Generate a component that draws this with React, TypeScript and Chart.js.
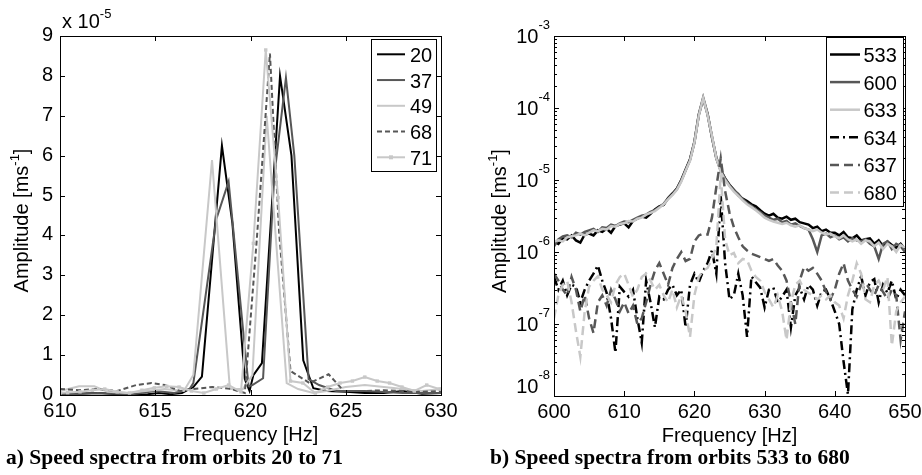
import React, { useEffect, useRef } from "react";
import { Chart, registerables } from "chart.js";

Chart.register(...registerables);

const SANS = '"Liberation Sans", Arial, Helvetica, sans-serif';
const SERIF = '"Liberation Serif", "Times New Roman", Times, serif';
const BLACK = "#000000";
const DARK = "#575757";
const LIGHT = "#c8c8c8";

// ---------------- (a) amplitude in units of 1e-5 m/s ----------------
const freq20 = [610, 611, 612, 613, 614, 614.6, 615.2, 615.8, 616.4, 617.0, 617.45, 618.5, 619.05, 619.7, 619.95, 620.15, 620.6, 621.55, 622.15, 622.77, 623.3, 624, 625, 626, 627, 628, 629, 630];
const amp20 = [0.05, 0.03, 0.05, 0.02, 0.0, 0.02, 0.05, 0.02, 0.05, 0.2, 0.46, 6.25, 4.3, 0.4, 0.1, 0.5, 0.8, 8.0, 6.0, 0.87, 0.17, 0.1, 0.08, 0.05, 0.05, 0.1, 0.03, 0.05];

const freq37 = [610, 611, 612, 613, 613.8, 615, 616, 616.8, 617.0, 618.2, 618.85, 619.9, 620.1, 620.66, 621.25, 621.86, 622.3, 623.05, 623.6, 624.5, 626, 628, 630];
const amp37 = [0.02, 0.03, 0.05, 0.03, 0.02, 0.1, 0.05, 0.15, 0.3, 4.4, 5.35, 0.22, 0.25, 0.42, 5.5, 7.95, 6.0, 0.4, 0.25, 0.1, 0.1, 0.05, 0.05];

const freq49 = [610, 611, 611.8, 612.5, 613.5, 614.5, 615.5, 616.5, 617.0, 617.98, 618.92, 619.6, 620.1, 620.85, 621.9, 622.5, 623.3, 624, 625, 626, 627, 628, 629, 630];
const amp49 = [0.1, 0.22, 0.22, 0.08, 0.05, 0.1, 0.15, 0.1, 0.5, 5.89, 0.15, 0.15, 0.5, 7.0, 0.3, 0.15, 0.05, 0.1, 0.2, 0.25, 0.2, 0.15, 0.1, 0.15];

const freq68 = [610, 611, 612, 613, 614, 614.8, 615.5, 616.3, 617, 618, 619, 619.7, 620.33, 621.02, 621.5, 622.1, 623.1, 624.1, 624.9, 626, 627, 628, 629, 630];
const amp68 = [0.15, 0.12, 0.15, 0.1, 0.25, 0.3, 0.25, 0.1, 0.15, 0.2, 0.15, 0.05, 3.9, 8.56, 4.1, 0.6, 0.3, 0.52, 0.1, 0.1, 0.12, 0.1, 0.08, 0.1];

const freq71 = [610, 610.4, 611.05, 611.7, 612.35, 613.0, 613.65, 614.3, 614.95, 615.6, 616.25, 616.9, 617.55, 618.2, 618.85, 619.5, 620.15, 620.8, 621.45, 622.1, 622.75, 623.4, 624.05, 624.7, 625.35, 626.0, 626.65, 627.3, 627.95, 628.6, 629.25, 629.9, 630];
const amp71 = [0.05, 0.06, 0.08, 0.12, 0.15, 0.08, 0.05, 0.12, 0.18, 0.22, 0.2, 0.1, 0.05, 0.15, 0.25, 0.08, 3.8, 8.65, 4.95, 0.35, 0.3, 0.05, 0.2, 0.3, 0.35, 0.45, 0.35, 0.3, 0.2, 0.1, 0.25, 0.15, 0.15];

const xTicksA = [610, 615, 620, 625, 630];
const yTicksA = [0, 1, 2, 3, 4, 5, 6, 7, 8, 9];

// ---------------- (b) amplitude in units of 1e-8 m/s ----------------
const freqB = [
  600, 600.625, 601.25, 601.875, 602.5, 603.125, 603.75, 604.375,
  605, 605.625, 606.25, 606.875, 607.5, 608.125, 608.75, 609.375,
  610, 610.625, 611.25, 611.875, 612.5, 613.125, 613.75, 614.375,
  615, 615.625, 616.25, 616.875, 617.5, 618.125, 618.75, 619.375,
  620, 620.625, 621.25, 621.875, 622.5, 623.125, 623.75, 624.375,
  625, 625.625, 626.25, 626.875, 627.5, 628.125, 628.75, 629.375,
  630, 630.625, 631.25, 631.875, 632.5, 633.125, 633.75, 634.375,
  635, 635.625, 636.25, 636.875, 637.5, 638.125, 638.75, 639.375,
  640, 640.625, 641.25, 641.875, 642.5, 643.125, 643.75, 644.375,
  645, 645.625, 646.25, 646.875, 647.5, 648.125, 648.75, 649.375,
  650,
];
const amp533 = [
  140, 130, 155, 150, 170, 145, 135, 175,
  180, 170, 200, 190, 210, 185, 230, 240,
  250, 220, 270, 290, 310, 300, 340, 390,
  430, 450, 560, 650, 760, 1000, 1400, 1950,
  3400, 8000, 13500, 8200, 4000, 2000, 1350, 1050,
  860, 730, 610, 550, 510, 460, 430, 380,
  340, 320, 340, 300, 290, 310, 280, 290,
  260, 250, 240, 215, 225, 195, 205, 185,
  185, 170, 190, 160, 155, 170, 145, 150,
  155, 130, 145, 120, 140, 125, 115, 130,
  110,
];
const amp600 = [
  120, 150, 165, 170, 160, 185, 175, 190,
  200, 210, 190, 220, 215, 240, 230, 250,
  265, 260, 280, 300, 320, 330, 360, 380,
  420, 470, 550, 630, 740, 980, 1350, 1900,
  3300, 8200, 14000, 8400, 3900, 2050, 1400, 1050,
  840, 720, 640, 540, 480, 440, 390, 360,
  320, 300, 280, 290, 260, 270, 240, 250,
  230, 215, 205, 150, 100, 170, 180, 160,
  170, 150, 160, 140, 155, 145, 140, 150,
  130, 120, 80, 130, 140, 110, 130, 120,
  100,
];
const amp633 = [
  140, 145, 140, 160, 165, 170, 180, 170,
  185, 200, 195, 210, 205, 230, 225, 245,
  250, 270, 265, 290, 300, 330, 350, 370,
  410, 460, 540, 620, 730, 950, 1350, 1850,
  3300, 7800, 13800, 8000, 4100, 2000, 1300, 1000,
  820, 690, 600, 520, 460, 420, 380, 340,
  300, 280, 265, 255, 245, 255, 235, 225,
  235, 215, 205, 195, 205, 185, 175, 180,
  165, 155, 170, 150, 140, 150, 130, 145,
  140, 120, 135, 110, 130, 120, 100, 125,
  115,
];
const amp634 = [
  45, 30, 40, 25, 35, 33, 20, 30,
  40, 50, 65, 40, 27, 12, 4, 33,
  28, 24, 30, 12, 5.5, 40, 20, 9,
  24, 22, 30, 35, 25, 30, 9, 35,
  50, 38, 55, 70, 105, 50, 600, 70,
  22, 25, 50, 25, 6.6, 46, 38, 32,
  17, 30, 32, 20, 24, 30, 9, 25,
  32, 22, 35, 30, 18, 28, 30, 22,
  15, 10, 3, 1.05, 16, 30, 46, 25,
  38, 42, 20, 35, 27, 40, 22, 30,
  25,
];
const amp637 = [
  50, 40, 30, 25, 45, 30, 15, 25,
  12, 7.5, 20, 25, 18, 30, 22, 15,
  20, 14, 18, 10, 12, 20, 35, 55,
  70, 50, 35, 60, 80, 100, 75, 80,
  140, 170, 180, 175, 300, 800, 2000, 700,
  350, 220, 160, 120, 105, 95, 90, 85,
  80, 75, 80, 65, 55, 40, 20, 10,
  40, 62, 55, 60, 50, 40, 28, 22,
  30, 50, 70, 40, 30, 24, 35, 38,
  30, 25, 35, 28, 22, 30, 25, 6,
  15,
];
const amp680 = [
  12, 25, 35, 40, 20, 8, 3.5, 15,
  33, 40, 46, 30, 25, 20, 35, 45,
  50, 35, 24, 30, 45, 50, 40, 30,
  35, 25, 20, 30, 17, 25, 15, 6.6,
  25, 45, 55, 60, 80, 120, 1200, 150,
  90, 97, 70, 80, 77, 55, 45, 40,
  28, 22, 17, 25, 15, 6, 20, 35,
  40, 30, 27, 25, 22, 25, 22, 25,
  20, 18, 12, 25, 40, 70, 50, 22,
  20, 35, 40, 30, 45, 5, 15, 20,
  24,
];
const UNIT_B = 1e-8;
const xTicksB = [600, 610, 620, 630, 640, 650];
const yExpB = [-3, -4, -5, -6, -7, -8];

type Part = { t: string; sup?: boolean };
type LegendItem = { label: string; color: string; dash: number[]; width: number; marker?: boolean };

const fnt = (s: number) => `${s}px ${SANS}`;

function partsWidth(ctx: CanvasRenderingContext2D, parts: Part[], big: number, small: number) {
  let w = 0;
  for (const p of parts) {
    ctx.font = fnt(p.sup ? small : big);
    w += ctx.measureText(p.t).width;
  }
  return w;
}
function drawParts(ctx: CanvasRenderingContext2D, parts: Part[], x: number, y: number, big: number, small: number, raise: number) {
  let cx = x;
  for (const p of parts) {
    ctx.font = fnt(p.sup ? small : big);
    ctx.fillText(p.t, cx, p.sup ? y - raise : y);
    cx += ctx.measureText(p.t).width;
  }
}

function makeDecor(cfg: any) {
  return {
    id: "decor",
    afterDraw(chart: any) {
      const ctx: CanvasRenderingContext2D = chart.ctx;
      const a = chart.chartArea;
      const xs = chart.scales.x;
      const ys = chart.scales.y;
      const L = Math.round(a.left), R = Math.round(a.right), T = Math.round(a.top), B = Math.round(a.bottom);
      ctx.save();
      ctx.setLineDash([]);
      ctx.strokeStyle = "#000";
      ctx.fillStyle = "#000";
      ctx.lineWidth = 1;
      // ticks
      ctx.beginPath();
      for (const v of cfg.xTicks) {
        const px = Math.round(xs.getPixelForValue(v)) + 0.5;
        ctx.moveTo(px, B); ctx.lineTo(px, B - 5);
        ctx.moveTo(px, T); ctx.lineTo(px, T + 5);
      }
      for (const v of cfg.yTickVals) {
        const py = Math.round(ys.getPixelForValue(v)) + 0.5;
        ctx.moveTo(L, py); ctx.lineTo(L + 5, py);
        ctx.moveTo(R, py); ctx.lineTo(R - 5, py);
      }
      if (cfg.minor) {
        for (const v of cfg.minor) {
          const py = Math.round(ys.getPixelForValue(v)) + 0.5;
          ctx.moveTo(L, py); ctx.lineTo(L + 3, py);
          ctx.moveTo(R, py); ctx.lineTo(R - 3, py);
        }
      }
      ctx.stroke();
      // frame
      ctx.strokeRect(L + 0.5, T + 0.5, R - L, B - T);
      // x labels
      ctx.textBaseline = "alphabetic";
      ctx.textAlign = "center";
      ctx.font = fnt(20);
      for (const v of cfg.xTicks) {
        ctx.fillText(String(v), xs.getPixelForValue(v), B + 22);
      }
      // y labels
      if (cfg.yMode === "num") {
        ctx.textAlign = "right";
        for (const v of cfg.yTickVals) {
          ctx.fillText(String(v), L - 7, ys.getPixelForValue(v) + 5);
        }
        ctx.textAlign = "left";
        drawParts(ctx, [{ t: "x 10" }, { t: "-5", sup: true }], L + 2, T - 8, 20, 13, 10);
      } else {
        ctx.textAlign = "left";
        cfg.yExp.forEach((e: number, i: number) => {
          const v = Math.pow(10, e);
          const py = ys.getPixelForValue(v);
          const parts = [{ t: "10" }, { t: String(e), sup: true }];
          const w = partsWidth(ctx, parts, 20, 13);
          const base = i === cfg.yExp.length - 1 ? py - 3 : py + 7;
          drawParts(ctx, parts, L - 4 - w, base, 20, 13, 14);
        });
      }
      // x title
      ctx.textAlign = "center";
      ctx.font = fnt(20);
      ctx.fillText("Frequency [Hz]", (L + R) / 2, B + 46);
      // y title
      ctx.textAlign = "left";
      const tparts: Part[] = [{ t: "Amplitude [ms" }, { t: "-1", sup: true }, { t: "]" }];
      const tw = partsWidth(ctx, tparts, 20, 13);
      ctx.save();
      ctx.translate(L - cfg.yTitleDx, (T + B) / 2 + 5);
      ctx.rotate(-Math.PI / 2);
      drawParts(ctx, tparts, -tw / 2, 0, 20, 13, 9);
      ctx.restore();
      // legend
      const lg = cfg.legend;
      const bx = R - lg.dxRight, by = T + lg.dyTop;
      ctx.fillStyle = "#fff";
      ctx.fillRect(bx, by, lg.w, lg.h);
      ctx.strokeStyle = "#000";
      ctx.lineWidth = 1;
      ctx.strokeRect(bx + 0.5, by + 0.5, lg.w, lg.h);
      lg.items.forEach((it: LegendItem, k: number) => {
        const y = by + lg.first + k * lg.step;
        ctx.strokeStyle = it.color;
        ctx.lineWidth = it.width;
        ctx.setLineDash(it.dash);
        ctx.beginPath();
        ctx.moveTo(bx + lg.x0, y);
        ctx.lineTo(bx + lg.x1, y);
        ctx.stroke();
        ctx.setLineDash([]);
        if (it.marker) {
          ctx.fillStyle = it.color;
          ctx.fillRect(bx + (lg.x0 + lg.x1) / 2 - 2, y - 2, 4, 4);
        }
        ctx.fillStyle = "#000";
        ctx.font = fnt(20);
        ctx.textAlign = "left";
        ctx.fillText(it.label, bx + lg.tx, y + 7.5);
      });
      ctx.restore();
    },
  };
}

const seriesA = [
  { label: "20", freq: freq20, amp: amp20, color: BLACK, dash: [] as number[], marker: false },
  { label: "37", freq: freq37, amp: amp37, color: DARK, dash: [] as number[], marker: false },
  { label: "49", freq: freq49, amp: amp49, color: LIGHT, dash: [] as number[], marker: false },
  { label: "68", freq: freq68, amp: amp68, color: DARK, dash: [5, 3], marker: false },
  { label: "71", freq: freq71, amp: amp71, color: LIGHT, dash: [] as number[], marker: true },
];

const seriesB = [
  { label: "533", amp: amp533, color: BLACK, dash: [] as number[] },
  { label: "600", amp: amp600, color: DARK, dash: [] as number[] },
  { label: "633", amp: amp633, color: LIGHT, dash: [] as number[] },
  { label: "634", amp: amp634, color: BLACK, dash: [9, 4, 2, 4] },
  { label: "637", amp: amp637, color: DARK, dash: [9, 5] },
  { label: "680", amp: amp680, color: LIGHT, dash: [9, 5] },
];

const hidden = { display: false };

function configA(): any {
  return {
    type: "line",
    data: {
      datasets: seriesA.map((s, k) => ({
        label: s.label,
        data: s.freq.map((f, i) => ({ x: f, y: s.amp[i] })),
        borderColor: s.color,
        backgroundColor: s.color,
        borderWidth: 2,
        borderDash: s.dash,
        pointRadius: s.marker ? 2.4 : 0,
        pointStyle: "rect",
        pointBorderWidth: 0,
        tension: 0,
        fill: false,
        order: seriesA.length - k,
      })),
    },
    options: {
      responsive: false,
      animation: false,
      devicePixelRatio: 1,
      layout: { padding: { left: 0, right: 19, top: 36, bottom: 0 } },
      plugins: { legend: hidden, tooltip: { enabled: false } },
      scales: {
        x: {
          type: "linear", min: 610, max: 630,
          ticks: hidden, grid: hidden, border: hidden,
          afterFit: (s: any) => { s.height = 55; },
        },
        y: {
          type: "linear", min: 0, max: 9,
          ticks: hidden, grid: hidden, border: hidden,
          afterFit: (s: any) => { s.width = 60; },
        },
      },
    },
    plugins: [
      makeDecor({
        xTicks: xTicksA,
        yTickVals: yTicksA,
        yMode: "num",
        yTitleDx: 32,
        legend: {
          dxRight: 70, dyTop: 3, w: 65, h: 132, first: 15.3, step: 25.75, x0: 6, x1: 34, tx: 39,
          items: seriesA.map((s) => ({ label: s.label, color: s.color, dash: s.dash, width: 2, marker: s.marker })),
        },
      }),
    ],
  };
}

function configB(): any {
  const minor: number[] = [];
  for (let e = -8; e < -3; e++) for (let m = 2; m <= 9; m++) minor.push(m * Math.pow(10, e));
  return {
    type: "line",
    data: {
      datasets: seriesB.map((s, k) => ({
        label: s.label,
        data: freqB.map((f, i) => ({ x: f, y: s.amp[i] * UNIT_B })),
        borderColor: s.color,
        backgroundColor: s.color,
        borderWidth: 2.5,
        borderDash: s.dash,
        pointRadius: 0,
        tension: 0,
        fill: false,
        order: seriesB.length - k,
      })),
    },
    options: {
      responsive: false,
      animation: false,
      devicePixelRatio: 1,
      layout: { padding: { left: 0, right: 17, top: 36, bottom: 0 } },
      plugins: { legend: hidden, tooltip: { enabled: false } },
      scales: {
        x: {
          type: "linear", min: 600, max: 650,
          ticks: hidden, grid: hidden, border: hidden,
          afterFit: (s: any) => { s.height = 54; },
        },
        y: {
          type: "logarithmic", min: 1e-8, max: 1e-3,
          ticks: hidden, grid: hidden, border: hidden,
          afterFit: (s: any) => { s.width = 94; },
        },
      },
    },
    plugins: [
      makeDecor({
        xTicks: xTicksB,
        yTickVals: yExpB.map((e) => Math.pow(10, e)),
        minor,
        yMode: "pow",
        yExp: yExpB,
        yTitleDx: 48,
        legend: {
          dxRight: 79, dyTop: 1, w: 77, h: 169, first: 17.5, step: 27.6, x0: 4, x1: 34, tx: 37.5,
          items: seriesB.map((s) => ({ label: s.label, color: s.color, dash: s.dash, width: 2.5 })),
        },
      }),
    ],
  };
}

function ChartBox({ make, left, width, height }: { make: () => any; left: number; width: number; height: number }) {
  const ref = useRef<HTMLCanvasElement>(null);
  useEffect(() => {
    const chart = new Chart(ref.current as HTMLCanvasElement, make());
    return () => chart.destroy();
  }, []);
  return (
    <canvas
      ref={ref}
      width={width}
      height={height}
      style={{ position: "absolute", left, top: 0, width, height }}
    />
  );
}

const captionStyle: React.CSSProperties = {
  position: "absolute",
  top: 447,
  fontFamily: SERIF,
  fontWeight: "bold",
  fontSize: 21.5,
  lineHeight: "21px",
  whiteSpace: "nowrap",
  color: "#000",
};

export default function App() {
  return (
    <div style={{ position: "absolute", left: 0, top: 0, width: 922, height: 475, background: "#fff", overflow: "hidden" }}>
      <ChartBox make={configA} left={0} width={460} height={450} />
      <ChartBox make={configB} left={460} width={462} height={450} />
      <div style={{ ...captionStyle, left: 6 }}>a) Speed spectra from orbits 20 to 71</div>
      <div style={{ ...captionStyle, left: 490 }}>b) Speed spectra from orbits 533 to 680</div>
    </div>
  );
}
